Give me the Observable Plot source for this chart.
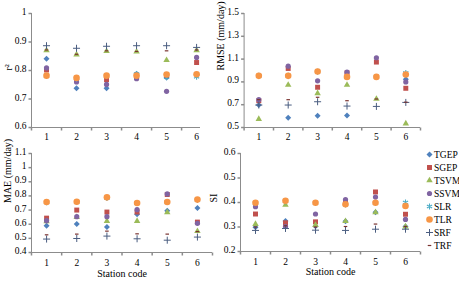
<!DOCTYPE html>
<html>
<head>
<meta charset="utf-8">
<script src="https://cdn.jsdelivr.net/npm/d3@7"></script>
<script src="https://cdn.jsdelivr.net/npm/@observablehq/plot@0.6"></script>
<style>
  body { margin: 0; background: #fff; }
  #chart { position: relative; width: 459px; height: 287px; overflow: hidden; background: #fff;
           font-family: "Liberation Serif", "Times New Roman", serif; }
  #chart > svg { position: absolute; }
  .ylab { position: absolute; font-size: 9.5px; line-height: 1; color: #000; white-space: nowrap;
          transform: translate(-100%, -50%); z-index: 5; }
</style>
</head>
<body>
<div id="chart"></div>
<script>
// Station codes and model names
const stations = [1, 2, 3, 4, 5, 6];
const models = ["TGEP", "SGEP", "TSVM", "SSVM", "SLR", "TLR", "SRF", "TRF"];

// Coefficient of determination per model, stations 1–6
const r2 = {
  TGEP: [0.841, 0.738, 0.738, 0.789, 0.775, 0.785],
  SGEP: [0.802, 0.767, 0.768, 0.775, 0.784, 0.828],
  TSVM: [0.871, 0.856, 0.868, 0.866, 0.836, 0.871],
  SSVM: [0.809, 0.760, 0.751, 0.771, 0.727, 0.846],
  SLR:  [0.781, 0.772, 0.781, 0.788, 0.776, 0.778],
  TLR:  [0.782, 0.774, 0.782, 0.782, 0.786, 0.787],
  SRF:  [0.887, 0.878, 0.885, 0.887, 0.887, 0.881],
  TRF:  [0.872, 0.857, 0.869, 0.867, 0.869, 0.872]
};

// Root mean square error (mm/day)
const rmse = {
  TGEP: [0.697, 0.585, 0.603, 0.606, 0.944, 0.924],
  SGEP: [0.735, 1.018, 0.853, 0.979, 1.074, 0.844],
  TSVM: [0.574, 0.874, 0.800, 0.874, 0.750, 0.535],
  SSVM: [0.744, 1.038, 0.909, 0.985, 1.112, 0.900],
  SLR:  [0.953, 0.953, 0.990, 0.944, 0.944, 0.979],
  TLR:  [0.953, 0.953, 0.991, 0.944, 0.944, 0.965],
  SRF:  [0.697, 0.697, 0.726, 0.688, 0.685, 0.720],
  TRF:  [0.744, 0.744, 0.765, 0.735, 0.750, 0.722]
};

// Mean absolute error (mm/day)
const mae = {
  TGEP: [0.589, 0.601, 0.580, 0.670, 0.695, 0.714],
  SGEP: [0.643, 0.700, 0.686, 0.686, 0.810, 0.615],
  TSVM: [0.620, 0.650, 0.622, 0.622, 0.684, 0.551],
  SSVM: [0.625, 0.653, 0.653, 0.703, 0.814, 0.606],
  SLR:  [0.755, 0.757, 0.785, 0.750, 0.757, 0.772],
  TLR:  [0.757, 0.759, 0.790, 0.750, 0.757, 0.774],
  SRF:  [0.495, 0.499, 0.516, 0.497, 0.487, 0.509],
  TRF:  [0.525, 0.530, 0.551, 0.532, 0.530, 0.548]
};

// Scatter index
const si = {
  TGEP: [0.299, 0.324, 0.303, 0.323, 0.360, 0.302],
  SGEP: [0.353, 0.317, 0.321, 0.404, 0.443, 0.352],
  TSVM: [0.312, 0.390, 0.308, 0.324, 0.360, 0.302],
  SSVM: [0.383, 0.302, 0.353, 0.412, 0.422, 0.331],
  SLR:  [0.398, 0.405, 0.398, 0.392, 0.398, 0.400],
  TLR:  [0.399, 0.407, 0.399, 0.393, 0.399, 0.386],
  SRF:  [0.286, 0.294, 0.287, 0.286, 0.291, 0.291],
  TRF:  [0.300, 0.305, 0.300, 0.302, 0.312, 0.302]
};

// Line-segment marker shapes (horizontal dash, vertical tick)
const dash = {
  draw(ctx, size) {
    const w = Math.sqrt(size) / 2;
    ctx.moveTo(-w, 0);
    ctx.lineTo(w, 0);
  }
};
const vtick = {
  draw(ctx, size) {
    const h = Math.sqrt(size) / 2;
    ctx.moveTo(0, -h);
    ctx.lineTo(0, h);
  }
};

// Marker style per model
const markerStyle = {
  TGEP: {symbol: "diamond2", fill: "#4F81BD", stroke: "none", r: 2.7},
  SGEP: {symbol: "square",   fill: "#C0504D", stroke: "none", r: 2.8},
  TSVM: {symbol: "triangle", fill: "#9BBB59", stroke: "none", r: 2.4},
  SSVM: {symbol: "circle",   fill: "#8064A2", stroke: "none", r: 2.6},
  SLR:  {symbol: "asterisk", fill: "none", stroke: "#4BACC6", r: 2.8, strokeWidth: 1.1},
  TLR:  {symbol: "circle",   fill: "#F79646", stroke: "none", r: 3.3},
  SRF:  {symbol: "plus",     fill: "none", stroke: "#4A5D80", r: 2.4, strokeWidth: 1},
  TRF:  {symbol: dash,       fill: "none", stroke: "#7A3330", r: 2, strokeWidth: 1.2}
};

const axisGray = "#8c8c8c";
const fmt = d => String(Math.round(d * 10) / 10);
const halfTicks = d3.range(0.5, 7, 1);
const serif = "'Liberation Serif', 'Times New Roman', serif";
const svgStyle = {background: "none", overflow: "visible", fontFamily: serif, fontSize: "9.5px", color: "#000"};

const panels = [
  {values: r2, label: "r²", yDomain: [0.6, 1], yTicks: [0.6, 0.7, 0.8, 0.9, 1],
   xDomain: [0.5, 6.13], left: 0, top: 0, width: 230, height: 145,
   mL: 31, mR: 30, mT: 13, mB: 18, titleDx: -23, xLabDy: 9.7, xTitle: false},
  {values: rmse, label: "RMSE (mm/day)", yDomain: [0.5, 1.5], yTicks: [0.5, 0.7, 0.9, 1.1, 1.3, 1.5],
   xDomain: [0.5, 6.5], left: 210, top: 0, width: 249, height: 145,
   mL: 33.6, mR: 39, mT: 13, mB: 18, titleDx: -23.5, xLabDy: 9.7, xTitle: false},
  {values: mae, label: "MAE (mm/day)", yDomain: [0.4, 1.1], yTicks: [0.4, 0.5, 0.6, 0.7, 0.8, 0.9, 1, 1.1],
   xDomain: [0.5, 6.5], left: 0, top: 140, width: 230, height: 147,
   mL: 31, mR: 18, mT: 13, mB: 35, titleDx: -24, xLabDy: 10.7, xTitle: true, xTitleDy: 24},
  {values: si, label: "SI", yDomain: [0.2, 0.6], yTicks: [0.2, 0.3, 0.4, 0.5, 0.6],
   xDomain: [0.5, 6.5], left: 210, top: 140, width: 249, height: 147,
   mL: 30, mR: 39, mT: 13, mB: 36, titleDx: -27, xLabDy: 10.7, xTitle: true, xTitleDy: 23.5}
];

const chart = document.getElementById("chart");

function place(svg, left, top) {
  svg.style.left = left + "px";
  svg.style.top = top + "px";
  chart.appendChild(svg);
}

for (const p of panels) {
  const x0 = p.xDomain[0];
  const y0 = p.yDomain[0];
  const xTicks = halfTicks.filter(t => t <= p.xDomain[1]);
  const marks = [
    // axis lines
    Plot.ruleX([x0], {stroke: axisGray}),
    Plot.ruleY([y0], {stroke: axisGray}),
    // y tick marks
    Plot.dot(p.yTicks, {x: () => x0, y: d => d, dx: -1.5, symbol: dash, r: 1.7, stroke: axisGray, fill: "none"}),
    // x ticks between stations, labels at stations
    Plot.dot(xTicks, {x: d => d, y: () => y0, dy: 1.5, symbol: vtick, r: 1.7, stroke: axisGray, fill: "none"}),
    Plot.text(stations, {x: d => d, y: () => y0, text: d => String(d), dy: p.xLabDy, fontSize: 9.5, fill: "#000"}),
    // y title
    Plot.text([p.label], {frameAnchor: "left", rotate: -90, dx: p.titleDx, fontSize: 10, fill: "#000"})
  ];
  if (p.xTitle) {
    marks.push(Plot.text(["Station code"], {frameAnchor: "bottom", dy: p.xTitleDy, fontSize: 10, fill: "#000"}));
  }
  for (const m of models) {
    const rows = stations.map((s, i) => ({station: s, value: p.values[m][i]}));
    marks.push(Plot.dot(rows, {x: "station", y: "value", ...markerStyle[m]}));
  }
  const svg = Plot.plot({
    width: p.width,
    height: p.height,
    marginLeft: p.mL,
    marginRight: p.mR,
    marginTop: p.mT,
    marginBottom: p.mB,
    x: {domain: p.xDomain, axis: null},
    y: {domain: p.yDomain, axis: null},
    style: svgStyle,
    marks
  });
  place(svg, p.left, p.top);

  // y tick labels placed through the panel's own y scale
  const yScale = svg.scale("y");
  const xScale = svg.scale("x");
  for (const t of p.yTicks) {
    const lab = document.createElement("div");
    lab.className = "ylab";
    lab.textContent = fmt(t);
    lab.style.left = (p.left + xScale.apply(x0) - 4.5) + "px";
    lab.style.top = (p.top + yScale.apply(t)) + "px";
    chart.appendChild(lab);
  }
}

// Legend
const legendMarks = [];
for (const m of models) {
  legendMarks.push(Plot.dot([m], {y: d => d, frameAnchor: "left", ...markerStyle[m]}));
}
legendMarks.push(Plot.text(models, {y: d => d, frameAnchor: "left", dx: 4.5, textAnchor: "start", fontSize: 9.5, fill: "#000"}));
place(Plot.plot({
  width: 39,
  height: 121,
  marginLeft: 9,
  marginRight: 0,
  marginTop: 11.7,
  marginBottom: 13.7,
  x: {axis: null},
  y: {type: "point", domain: models, padding: 0, axis: null},
  style: svgStyle,
  marks: legendMarks
}), 420, 140);
</script>
</body>
</html>
